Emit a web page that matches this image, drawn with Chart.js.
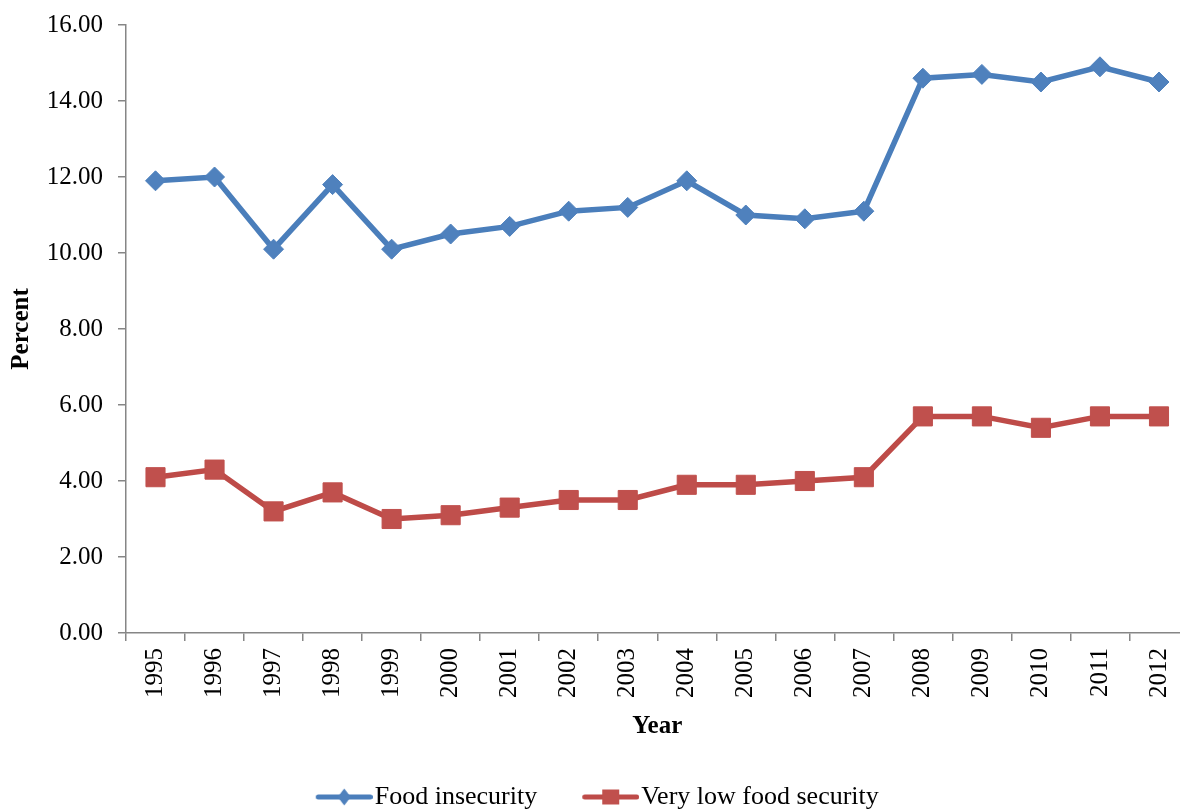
<!DOCTYPE html>
<html>
<head>
<meta charset="utf-8">
<title>Food insecurity, 1995–2012</title>
<script src="https://cdn.jsdelivr.net/npm/chart.js@4.4.1/dist/chart.umd.min.js"></script>
<style>
  html, body { margin: 0; padding: 0; overflow: hidden; background: #ffffff; }
  #frame { position: relative; width: 1180px; height: 810px; overflow: hidden; }
  #chart { position: absolute; left: 0; top: 0; }
</style>
</head>
<body>
<!-- the drawing is a little larger than the frame; its right and bottom edges are trimmed -->
<div id="frame"><canvas id="chart" width="1192" height="820"></canvas></div>
<script>
// Survey years (x categories)
const years = ['1995', '1996', '1997', '1998', '1999', '2000', '2001', '2002', '2003',
               '2004', '2005', '2006', '2007', '2008', '2009', '2010', '2011', '2012'];

// Share of households, percent
const foodInsecurity = [11.9, 12.0, 10.1, 11.8, 10.1, 10.5, 10.7, 11.1, 11.2,
                        11.9, 11.0, 10.9, 11.1, 14.6, 14.7, 14.5, 14.9, 14.5];
const veryLowFoodSecurity = [4.1, 4.3, 3.2, 3.7, 3.0, 3.1, 3.3, 3.5, 3.5,
                             3.9, 3.9, 4.0, 4.1, 5.7, 5.7, 5.4, 5.7, 5.7];

// Value axis tick positions
const yTickValues = [0, 2, 4, 6, 8, 10, 12, 14, 16];

const seriesNames = ['Food insecurity', 'Very low food security'];

const SERIF = '"Liberation Serif", "Times New Roman", Times, serif';
const AXIS_GREY = '#868686';
const BLUE_LINE = '#4A7EBB', BLUE_MARK = '#4F81BD';
const RED_LINE = '#BE4B48', RED_MARK = '#C0504D';

// Legend swatch: a short line with the series marker in its middle.
// The drawn part sits toward the right so it runs up to the label text.
function legendSwatch(lineColor, markColor, shape) {
  const c = document.createElement('canvas');
  c.width = 62; c.height = 24;
  const g = c.getContext('2d');
  g.strokeStyle = lineColor;
  g.lineWidth = 5;
  g.lineCap = 'round';
  g.beginPath();
  g.moveTo(7.5, 12);
  g.lineTo(59.5, 12);
  g.stroke();
  const cx = 33.5, cy = 12;
  g.fillStyle = markColor;
  g.beginPath();
  if (shape === 'diamond') {
    g.moveTo(cx, cy - 8.5);
    g.lineTo(cx + 6.5, cy);
    g.lineTo(cx, cy + 8.5);
    g.lineTo(cx - 6.5, cy);
    g.closePath();
  } else {
    g.rect(cx - 8.5, cy - 7.5, 17, 15);
  }
  g.fill();
  return c;
}

const swatches = [
  legendSwatch(BLUE_LINE, BLUE_MARK, 'diamond'),
  legendSwatch(RED_LINE, RED_MARK, 'square')
];

new Chart(document.getElementById('chart'), {
  type: 'line',
  data: {
    labels: years,
    datasets: [
      {
        label: seriesNames[0],
        data: foodInsecurity,
        borderColor: BLUE_LINE,
        backgroundColor: BLUE_MARK,
        borderWidth: 5.5,
        tension: 0,
        pointStyle: 'rectRot',
        pointRadius: 10,
        pointBorderWidth: 1,
        pointBackgroundColor: BLUE_MARK,
        pointBorderColor: BLUE_MARK
      },
      {
        label: seriesNames[1],
        data: veryLowFoodSecurity,
        borderColor: RED_LINE,
        backgroundColor: RED_MARK,
        borderWidth: 5.5,
        tension: 0,
        pointStyle: 'rect',
        pointRadius: 13.5,
        pointBorderWidth: 1,
        pointBackgroundColor: RED_MARK,
        pointBorderColor: RED_MARK
      }
    ]
  },
  options: {
    responsive: false,
    animation: false,
    devicePixelRatio: 1,
    layout: {
      autoPadding: false,
      padding: { top: 25, right: 3.5, bottom: 0, left: 12 }
    },
    plugins: {
      tooltip: { enabled: false },
      legend: {
        display: true,
        position: 'bottom',
        labels: {
          usePointStyle: true,
          pointStyleWidth: 40,
          padding: 51,
          color: '#000000',
          font: { family: SERIF, size: 26, lineHeight: 1 },
          generateLabels(chart) {
            const items = Chart.defaults.plugins.legend.labels.generateLabels(chart);
            items.forEach((it, i) => { it.pointStyle = swatches[i]; it.fontColor = '#000000'; });
            return items;
          }
        }
      }
    },
    scales: {
      x: {
        type: 'category',
        offset: true,
        grid: {
          offset: true,
          drawOnChartArea: false,
          drawTicks: true,
          tickLength: 8,
          color: AXIS_GREY,
          lineWidth: 1.5
        },
        border: { display: true, color: AXIS_GREY, width: 1.5 },
        ticks: {
          autoSkip: false,
          minRotation: 90,
          maxRotation: 90,
          padding: 7,
          color: '#000000',
          font: { family: SERIF, size: 25 }
        },
        title: {
          display: true,
          text: 'Year',
          color: '#000000',
          font: { family: SERIF, size: 25, weight: 'bold', lineHeight: 0.48 },
          padding: { top: 0, bottom: 0 }
        },
        afterFit(scale) {
          scale.height = 100;
          scale.paddingLeft = 0;
          scale.paddingRight = 0;
        }
      },
      y: {
        min: 0,
        max: 16,
        afterBuildTicks(scale) { scale.ticks = yTickValues.map(v => ({ value: v })); },
        grid: {
          drawOnChartArea: false,
          drawTicks: true,
          tickLength: 8,
          color: AXIS_GREY,
          lineWidth: 1.5
        },
        border: { display: true, color: AXIS_GREY, width: 1.5 },
        ticks: {
          padding: 15,
          color: '#000000',
          font: { family: SERIF, size: 25, lineHeight: 0.4 },
          callback: v => Number(v).toFixed(2)
        },
        title: {
          display: true,
          text: 'Percent',
          color: '#000000',
          font: { family: SERIF, size: 25, weight: 'bold', lineHeight: 0.8 },
          padding: { top: 0, bottom: 0 }
        },
        afterFit(scale) {
          scale.width = 114;
          scale.paddingTop = 0;
          scale.paddingBottom = 0;
        }
      }
    }
  }
});
</script>
</body>
</html>
